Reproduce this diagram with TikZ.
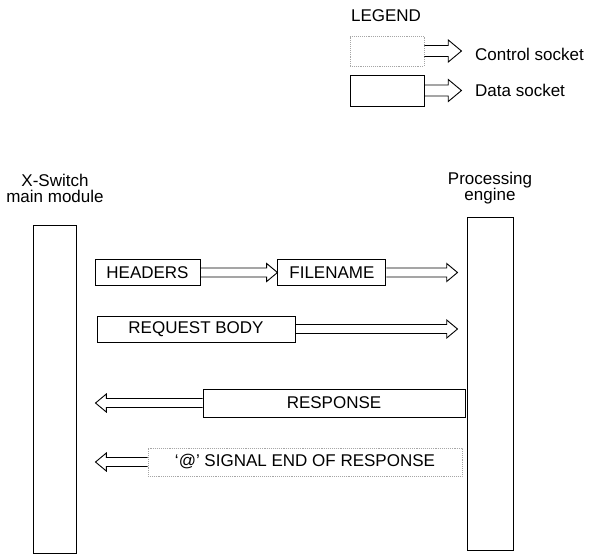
\documentclass[tikz,border=0pt]{standalone}
\usepackage{fontspec}
\setmainfont{Liberation Sans}
\usetikzlibrary{positioning, calc}
\tikzset{
    module/.style={rectangle, draw=black, line width=1pt, inner sep=0pt},
    msg/.style={rectangle, draw=black, line width=0.9pt, inner sep=0pt, minimum height=26pt, font=\fontsize{17}{20}\selectfont},
    ctrlmsg/.style={msg, draw=gray!70, densely dotted},
    caption/.style={align=center, inner sep=0pt, font=\fontsize{17}{16}\selectfont},
}
% hollow socket arrow: [half shaft width]{from}{tip}
\newcommand{\sockarrow}[3][4.5]{%
    \draw[line width=0.9pt, line join=miter] let \p1=(#2), \p2=(#3), \n1={sign(\x2-\x1)} in
        (\x1,\y1+#1pt) -- (\x2-\n1*2.4*#1pt,\y1+#1pt) -- (\x2-\n1*2.4*#1pt,\y1+2*#1pt)
        -- (\x2,\y1) -- (\x2-\n1*2.4*#1pt,\y1-2*#1pt) -- (\x2-\n1*2.4*#1pt,\y1-#1pt) -- (\x1,\y1-#1pt);}

\begin{document}
\begin{tikzpicture}[x=1pt, y=-1pt]
    \useasboundingbox (0,0) rectangle (592,554);

    % legend
    \node[caption] (legend) at (386,16) {LEGEND};
    \node[ctrlmsg, minimum width=74pt, minimum height=30pt] (ctrlbox) at (387,51) {};
    \node[msg, minimum width=74pt, minimum height=31pt] (databox) at (387,90.5) {};
    \coordinate (ctrltip) at ([xshift=37pt]ctrlbox.east);
    \coordinate (datatip) at ([xshift=37pt]databox.east);
    \sockarrow[5.5]{ctrlbox.east}{ctrltip}
    \sockarrow[5.5]{databox.east}{datatip}
    \node[caption, anchor=west] (ctrllbl) at (475,54) {Control socket};
    \node[caption, anchor=west] (datalbl) at (475,90) {Data socket};

    % modules
    \node[module, minimum width=43pt, minimum height=328pt] (xswitch) at (54.5,389) {};
    \node[module, minimum width=46pt, minimum height=333pt] (procengine) at (490,383.5) {};
    \node[caption] (xswitchlbl) at (55,188) {X-Switch\\main module};
    \node[caption] (proclbl) at (490,188) {Processing\\engine};

    % messages
    \node[msg, minimum width=105pt] (headers) at (147.5,272.5) {HEADERS};
    \node[msg, minimum width=108pt, right=77pt of headers] (filename) {FILENAME};
    \node[msg, minimum width=198pt] (reqbody) at (196,329) {REQUEST BODY};
    \node[msg, minimum width=262pt, minimum height=28pt] (response) at (334,403) {RESPONSE};
    \node[ctrlmsg, minimum width=314pt, minimum height=28pt] (signal) at (305,462) {`@' SIGNAL END OF RESPONSE};

    \coordinate (fntip) at ([xshift=-9pt]procengine.west |- filename.east);
    \coordinate (rbtip) at ([xshift=-9pt]procengine.west |- reqbody.east);
    \coordinate (rstip) at ([xshift=19pt]xswitch.east |- response.west);
    \coordinate (sgtip) at ([xshift=19pt]xswitch.east |- signal.west);

    \sockarrow{headers.east}{filename.west}
    \sockarrow{filename.east}{fntip}
    \sockarrow{reqbody.east}{rbtip}
    \sockarrow{response.west}{rstip}
    \sockarrow{signal.west}{sgtip}
\end{tikzpicture}
\end{document}
